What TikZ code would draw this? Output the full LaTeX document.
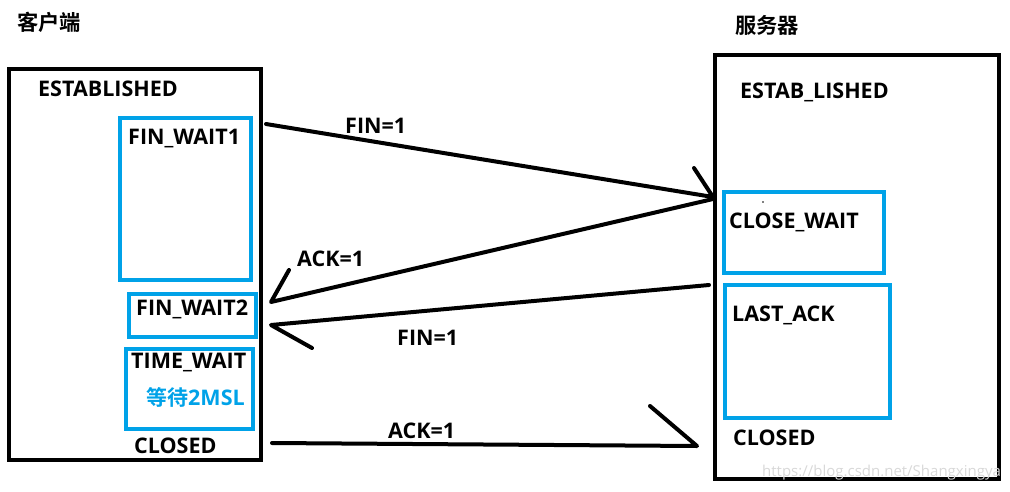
\documentclass[tikz,border=0pt]{standalone}
\usepackage{fontspec}
\setmainfont{Open Sans}[BoldFont={* Bold}]
\newfontfamily\cjk{Noto Sans CJK SC}[BoldFont={* Bold}]
\definecolor{paintblue}{HTML}{00A2E8}
\definecolor{wmgray}{HTML}{D8D8D8}
\tikzset{
  bigbox/.style={draw=black, line width=4.2pt},
  statebox/.style={draw=paintblue, line width=4pt},
  lbl/.style={anchor=base west, inner sep=0pt, font=\bfseries\fontsize{21.5}{24}\selectfont},
  title/.style={anchor=base west, inner sep=0pt, font=\cjk\bfseries\fontsize{21.3}{24}\selectfont},
  msg/.style={line width=4pt, line cap=round, line join=round},
}
\begin{document}
\begin{tikzpicture}[x=1pt, y=-1pt]
\useasboundingbox (0,0) rectangle (1010,491);
% titles
\node[title] (client) at (17,30) {客户端};
\node[title] (server) at (735,33) {服务器};
% outer boxes
\draw[bigbox] (9,69) rectangle (261,460);
\draw[bigbox] (715,55) rectangle (999,479);
% state boxes client
\draw[statebox] (120,118) rectangle (251,280);
\draw[statebox] (129,294) rectangle (256,337);
\draw[statebox] (126,349) rectangle (253,429);
% state boxes server
\draw[statebox] (724,192) rectangle (884,273);
\draw[statebox] (725,285) rectangle (890,418);
% labels
\node[lbl] (est) at (38,96) {ESTABLISHED};
\node[lbl] (fw1) at (128,144) {FIN\_WAIT1};
\node[lbl] (fw2) at (136,315) {FIN\_WAIT2};
\node[lbl] (tw) at (131,368) {TIME\_WAIT};
\node[lbl, text=paintblue] (msl) at (146,405) {{\cjk\bfseries\fontsize{21}{24}\selectfont 等待}2MSL};
\node[lbl] (cc) at (134,453) {CLOSED};
\node[lbl] (sest) at (740,98) {ESTAB\_LISHED};
\node[lbl] (cw) at (729,228) {CLOSE\_WAIT};
\node[lbl] (la) at (732,321) {LAST\_ACK};
\node[lbl] (sc) at (733,445) {CLOSED};
\fill (763,202) circle (0.8pt);
% message labels
\node[lbl] (m1) at (345,133) {FIN=1};
\node[lbl] (m2) at (297,266) {ACK=1};
\node[lbl] (m3) at (397,345) {FIN=1};
\node[lbl] (m4) at (388,438) {ACK=1};
% watermark
\node[anchor=base west, inner sep=0pt, text=wmgray, font=\fontsize{15}{16}\selectfont] (wm) at (762,476) {https://blog.csdn.net/Shangxingya};
% connector endpoints
\coordinate (a1s) at (266,124);
\coordinate (a1e) at (713,197);
\coordinate (a1h) at (694,168);
\coordinate (a2s) at (713,199);
\coordinate (a2e) at (271,302);
\coordinate (a2h) at (289,270);
\coordinate (a3s) at (709,285);
\coordinate (a3e) at (271,325);
\coordinate (a3h) at (312,348);
\coordinate (a4s) at (272,443);
\coordinate (a4e) at (697,446);
\coordinate (a4h) at (650,406);
% connectors
\draw[msg] (a1s) -- (a1e) -- (a1h);
\draw[msg] (a2s) -- (a2e) -- (a2h);
\draw[msg] (a3s) -- (a3e) -- (a3h);
\draw[msg] (a4s) -- (a4e) -- (a4h);
\end{tikzpicture}
\end{document}
